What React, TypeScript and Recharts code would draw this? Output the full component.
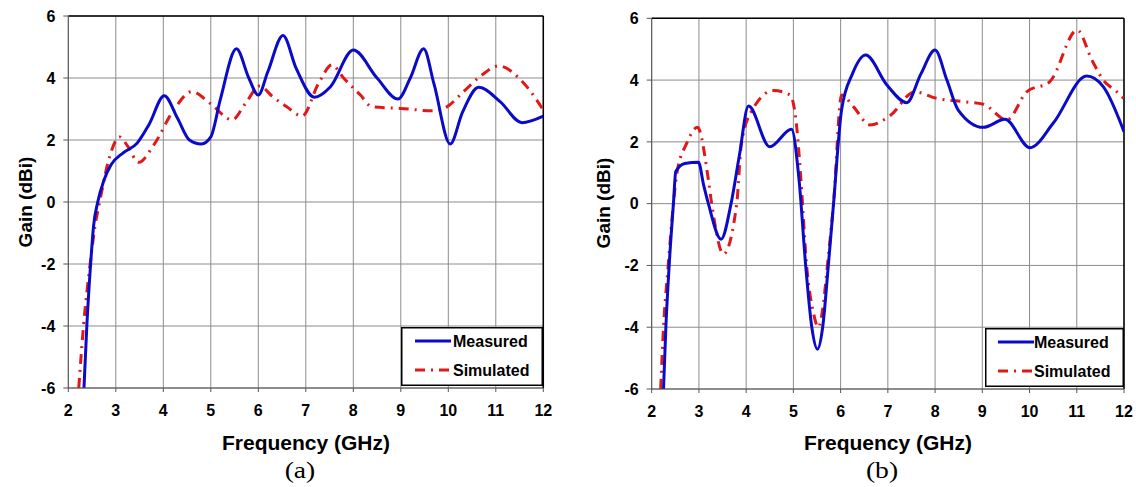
import React from 'react'
import { LineChart, Line, XAxis, YAxis, CartesianGrid, ReferenceLine } from 'recharts'

const freqTicks = [2, 3, 4, 5, 6, 7, 8, 9, 10, 11, 12]
const gainTicks = [-6, -4, -2, 0, 2, 4, 6]

// (a) measured
const measFreqA = [2.33, 2.39, 2.47, 2.53, 2.62, 2.75, 2.9, 3.15, 3.45, 3.7, 4.02, 4.3, 4.55, 4.8, 5.0, 5.2, 5.54, 5.8, 6.0, 6.2, 6.52, 6.8, 7.18, 7.52, 8.0, 8.5, 8.94, 9.2, 9.48, 9.7, 10.04, 10.3, 10.64, 11.09, 11.55, 12]
const measGainA = [-6, -4, -2, -0.8, 0, 0.7, 1.2, 1.58, 1.9, 2.5, 3.43, 2.7, 2.0, 1.87, 2.1, 3.3, 4.94, 4.0, 3.45, 4.2, 5.37, 4.3, 3.38, 3.72, 4.9, 4.0, 3.32, 4.0, 4.94, 3.8, 1.87, 2.9, 3.7, 3.24, 2.56, 2.77]

// (a) simulated
const simFreqA = [2.22, 2.32, 2.46, 2.56, 2.66, 2.87, 3.08, 3.25, 3.48, 3.8, 4.22, 4.6, 4.99, 5.45, 5.73, 6.03, 6.3, 6.6, 6.92, 7.27, 7.55, 7.8, 8.15, 8.39, 8.99, 9.69, 9.97, 10.32, 10.71, 11.06, 11.59, 12]
const simGainA = [-6, -4, -2, -0.8, 0, 1.46, 2.1, 1.8, 1.28, 1.84, 2.97, 3.56, 3.18, 2.65, 3.18, 3.74, 3.4, 3.07, 2.77, 3.83, 4.42, 3.99, 3.45, 3.07, 3.02, 2.94, 3.07, 3.56, 4.1, 4.39, 3.83, 2.97]

// (b) measured
const measFreqB = [2.25, 2.3, 2.37, 2.46, 2.51, 2.7, 2.99, 3.1, 3.2, 3.47, 3.68, 3.85, 4.05, 4.5, 4.96, 5.12, 5.26, 5.39, 5.51, 5.62, 5.74, 5.85, 6.02, 6.25, 6.53, 6.98, 7.4, 7.7, 8.0, 8.25, 8.49, 9.02, 9.48, 10.01, 10.5, 11.21, 11.56, 12]
const measGainB = [-6, -4, -2, 0, 1.04, 1.3, 1.34, 0.6, 0, -1.15, 0, 1.5, 3.16, 1.84, 2.41, 0.77, -2, -4, -4.71, -4, -2, 0, 3.03, 4.2, 4.81, 3.84, 3.27, 4.2, 4.97, 4.0, 3.03, 2.47, 2.73, 1.81, 2.6, 4.13, 3.79, 2.33]

// (b) simulated
const simFreqB = [2.19, 2.25, 2.35, 2.46, 2.53, 2.74, 2.97, 3.2, 3.27, 3.52, 3.8, 3.9, 4.15, 4.58, 4.93, 5.07, 5.16, 5.28, 5.42, 5.53, 5.63, 5.72, 5.85, 6.02, 6.27, 6.62, 7.05, 7.57, 8.03, 8.6, 9.02, 9.52, 9.94, 10.43, 11.01, 11.32, 11.56, 11.85, 12]
const simGainB = [-6, -4, -2, 0, 0.95, 1.95, 2.47, 0.77, 0, -1.63, 0, 1.95, 3.09, 3.66, 3.52, 2.49, 0.77, -2, -3.5, -4.0, -3.3, -2, 0, 3.52, 3.14, 2.55, 2.85, 3.62, 3.41, 3.3, 3.22, 2.71, 3.62, 3.95, 5.62, 4.65, 4.0, 3.62, 3.4]

const toPoints = (f: number[], g: number[]) => f.map((x, i) => ({ f: x, g: g[i] }))

const font = '"Liberation Sans", Arial, sans-serif'
const blue = '#0a0ac8'
const red = '#e01818'
const simDash = '10 6 2 6'

interface PanelProps {
  left: number
  margin: { top: number; right: number; left: number; bottom: number }
  measured: { f: number; g: number }[]
  simulated: { f: number; g: number }[]
}

function Panel({ left, margin, measured, simulated }: PanelProps) {
  const tick = { fontSize: 16, fontWeight: 700, fill: '#000', fontFamily: font }
  return (
    <div style={{ position: 'absolute', left, top: 0 }}>
      <LineChart width={568} height={487} margin={margin}>
        <CartesianGrid stroke="#8c8c8c" strokeWidth={1} />
        <XAxis
          type="number"
          dataKey="f"
          domain={[2, 12]}
          ticks={freqTicks}
          allowDataOverflow
          height={30}
          tickSize={4}
          tickMargin={13}
          stroke="#555"
          tick={tick}
        />
        <YAxis
          type="number"
          dataKey="g"
          domain={[-6, 6]}
          ticks={gainTicks}
          allowDataOverflow
          width={40}
          tickSize={5}
          tickMargin={8}
          stroke="#555"
          tick={tick}
        />
        <ReferenceLine y={6} stroke="#000" strokeWidth={1.5} />
        <ReferenceLine x={12} stroke="#000" strokeWidth={1.5} />
        <Line
          data={simulated}
          dataKey="g"
          type="monotone"
          stroke={red}
          strokeWidth={3}
          strokeDasharray={simDash}
          dot={false}
          isAnimationActive={false}
        />
        <Line
          data={measured}
          dataKey="g"
          type="monotone"
          stroke={blue}
          strokeWidth={3}
          dot={false}
          isAnimationActive={false}
        />
      </LineChart>
    </div>
  )
}

function LegendBox({ x, y, w, h, sample, textX }: { x: number; y: number; w: number; h: number; sample: number; textX: number }) {
  return (
    <svg style={{ position: 'absolute', left: x, top: y }} width={w} height={h}>
      <rect x={0.75} y={0.75} width={w - 1.5} height={h - 1.5} fill="#fff" stroke="#000" strokeWidth={1.5} />
      <line x1={sample} x2={sample + 36} y1={14} y2={14} stroke={blue} strokeWidth={3} />
      <line x1={sample} x2={sample + 36} y1={43} y2={43} stroke={red} strokeWidth={3} strokeDasharray={simDash} />
      <text x={textX} y={20} fontFamily={font} fontWeight={700} fontSize={16}>Measured</text>
      <text x={textX} y={49} fontFamily={font} fontWeight={700} fontSize={16}>Simulated</text>
    </svg>
  )
}

const titleStyle: React.CSSProperties = {
  position: 'absolute',
  fontFamily: font,
  fontWeight: 700,
  whiteSpace: 'nowrap',
  transform: 'translate(-50%, -50%)',
}

const captionStyle: React.CSSProperties = {
  ...titleStyle,
  fontSize: 24,
  fontWeight: 400,
  fontFamily: '"Liberation Serif", "Times New Roman", serif',
  transform: 'translate(-50%, -50%) scaleX(1.15)',
}

export default function App() {
  return (
    <div style={{ position: 'absolute', left: 0, top: 0, width: 1136, height: 487, background: '#fff' }}>
      <Panel
        left={0}
        margin={{ top: 16, right: 24.7, left: 28.3, bottom: 69 }}
        measured={toPoints(measFreqA, measGainA)}
        simulated={toPoints(simFreqA, simGainA)}
      />
      <Panel
        left={568}
        margin={{ top: 18.3, right: 12, left: 43.7, bottom: 68 }}
        measured={toPoints(measFreqB, measGainB)}
        simulated={toPoints(simFreqB, simGainB)}
      />

      <LegendBox x={401} y={327} w={142} h={59} sample={14} textX={52} />
      <LegendBox x={985} y={328} w={139} h={59} sample={13} textX={49} />

      <div style={{ ...titleStyle, left: 26, top: 202, fontSize: 19, transform: 'translate(-50%, -50%) rotate(-90deg)' }}>Gain (dBi)</div>
      <div style={{ ...titleStyle, left: 604, top: 203, fontSize: 19, transform: 'translate(-50%, -50%) rotate(-90deg)' }}>Gain (dBi)</div>
      <div style={{ ...titleStyle, left: 306, top: 443, fontSize: 21 }}>Frequency (GHz)</div>
      <div style={{ ...titleStyle, left: 888, top: 443, fontSize: 21 }}>Frequency (GHz)</div>

      <div style={{ ...captionStyle, left: 300, top: 470 }}>(a)</div>
      <div style={{ ...captionStyle, left: 882, top: 470 }}>(b)</div>
    </div>
  )
}
